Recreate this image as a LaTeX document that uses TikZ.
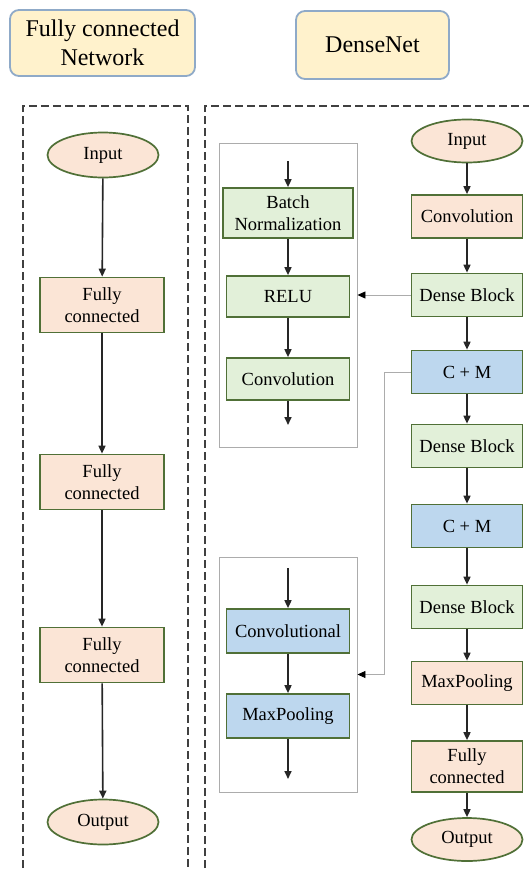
\documentclass[tikz,border=0pt]{standalone}
\usepackage{fontspec}
\setmainfont{Liberation Serif}
\usetikzlibrary{positioning, shapes.geometric, arrows.meta}
\definecolor{peach}{RGB}{251,229,214}
\definecolor{mint}{RGB}{226,240,217}
\definecolor{sky}{RGB}{189,215,238}
\definecolor{leaf}{RGB}{80,112,55}
\definecolor{cream}{RGB}{255,242,204}
\definecolor{steel}{RGB}{143,170,200}
\definecolor{frame}{RGB}{64,64,64}

\begin{document}
\begin{tikzpicture}[
  x=1pt, y=-1pt,
  every node/.style={
    text=black,
    inner sep=0mm,
    align=center,
    font=\fontsize{18.5}{22}\selectfont
  },
  title/.style={draw=steel, fill=cream, line width=1.8pt, rounded corners=9pt,
    font=\fontsize{24}{29}\selectfont},
  layer/.style={draw=leaf, line width=1.7pt, minimum width=111pt, minimum height=43pt},
  fcbox/.style={layer, fill=peach, minimum width=124pt, minimum height=55pt},
  term/.style={ellipse, draw=leaf, fill=peach, line width=1.7pt,
    minimum width=111pt, minimum height=45pt},
  inner/.style={draw=gray!65, line width=0.9pt, minimum width=138pt},
  arr/.style={draw=black!85, -{Triangle[length=8pt,width=7pt]}, line width=1.6pt},
  link/.style={draw=gray!65, line width=0.9pt,
    -{Triangle[length=8pt,width=7pt,color=black]}},
  frameline/.style={draw=frame, line width=1.6pt, dash pattern=on 8pt off 4pt}
]
\useasboundingbox (0,0) rectangle (529,870);
\clip (0,0) rectangle (529,870);

% titles
\node[title, minimum width=185pt, minimum height=66pt] (tfc) at (102.5,43)
  {Fully connected\\Network};
\node[title, minimum width=153pt, minimum height=68pt] (tdn) at (372.5,45) {DenseNet};

% dashed frames
\draw[frameline] (23,880) -- (23,106) -- (188,106) -- (188,880);
\draw[frameline] (205,880) -- (205,106) -- (540,106);

% fully connected network
\node[term] (fcin) at (103,155) {Input};
\node[fcbox] (fc1) at (102,305) {Fully\\connected};
\node[fcbox] (fc2) at (102,482) {Fully\\connected};
\node[fcbox] (fc3) at (102,655) {Fully\\connected};
\node[term] (fcout) at (103,822) {Output};

\draw[arr] (fcin) -- (fc1);
\draw[arr] (fc1) -- (fc2);
\draw[arr] (fc2) -- (fc3);
\draw[arr] (fc3) -- (fcout);

% densenet
\node[term, minimum height=43pt] (din) at (467,141) {Input};
\node[layer, fill=peach] (dconv) at (467,216.5) {Convolution};
\node[layer, fill=mint] (db1) at (467,295) {Dense Block};
\node[layer, fill=sky] (cm1) at (467,372) {C + M};
\node[layer, fill=mint] (db2) at (467,446) {Dense Block};
\node[layer, fill=sky] (cm2) at (467,526) {C + M};
\node[layer, fill=mint] (db3) at (467,607) {Dense Block};
\node[layer, fill=peach] (dpool) at (467,683) {MaxPooling};
\node[layer, fill=peach, minimum height=51pt] (dfc) at (467,766.5) {Fully\\connected};
\node[term, minimum height=43pt] (dout) at (467,839.5) {Output};

\draw[arr] (din) -- (dconv);
\draw[arr] (dconv) -- (db1);
\draw[arr] (db1) -- (cm1);
\draw[arr] (cm1) -- (db2);
\draw[arr] (db2) -- (cm2);
\draw[arr] (cm2) -- (db3);
\draw[arr] (db3) -- (dpool);
\draw[arr] (dpool) -- (dfc);
\draw[arr] (dfc) -- (dout);

% dense block detail
\node[inner, minimum height=304pt] (box1) at (288,295) {};
\node[layer, fill=mint, minimum width=130pt, minimum height=50pt] (bn) at (288,213)
  {Batch\\Normalization};
\node[layer, fill=mint, minimum width=123pt, minimum height=41pt] (relu) at (288,296.5) {RELU};
\node[layer, fill=mint, minimum width=123pt, minimum height=42pt] (bconv) at (288,379) {Convolution};
\coordinate (bnin) at (288,161);
\coordinate (bout) at (288,425);

\draw[arr] (bnin) -- (bn);
\draw[arr] (bn) -- (relu);
\draw[arr] (relu) -- (bconv);
\draw[arr] (bconv) -- (bout);

% c + m detail
\node[inner, minimum height=235pt] (box2) at (288,674.5) {};
\node[layer, fill=sky, minimum width=123pt, minimum height=44pt] (cconv) at (288,631) {Convolutional};
\node[layer, fill=sky, minimum width=123pt, minimum height=44pt] (cpool) at (288,716) {MaxPooling};
\coordinate (cin) at (288,568);
\coordinate (cout) at (288,779);

\draw[arr] (cin) -- (cconv);
\draw[arr] (cconv) -- (cpool);
\draw[arr] (cpool) -- (cout);

% links to details
\coordinate (cmturn) at (384,372);
\draw[link] (db1.west) -- (box1.east);
\draw[link] (cm1.west) -- (cmturn) |- (box2.east);

\end{tikzpicture}
\end{document}
